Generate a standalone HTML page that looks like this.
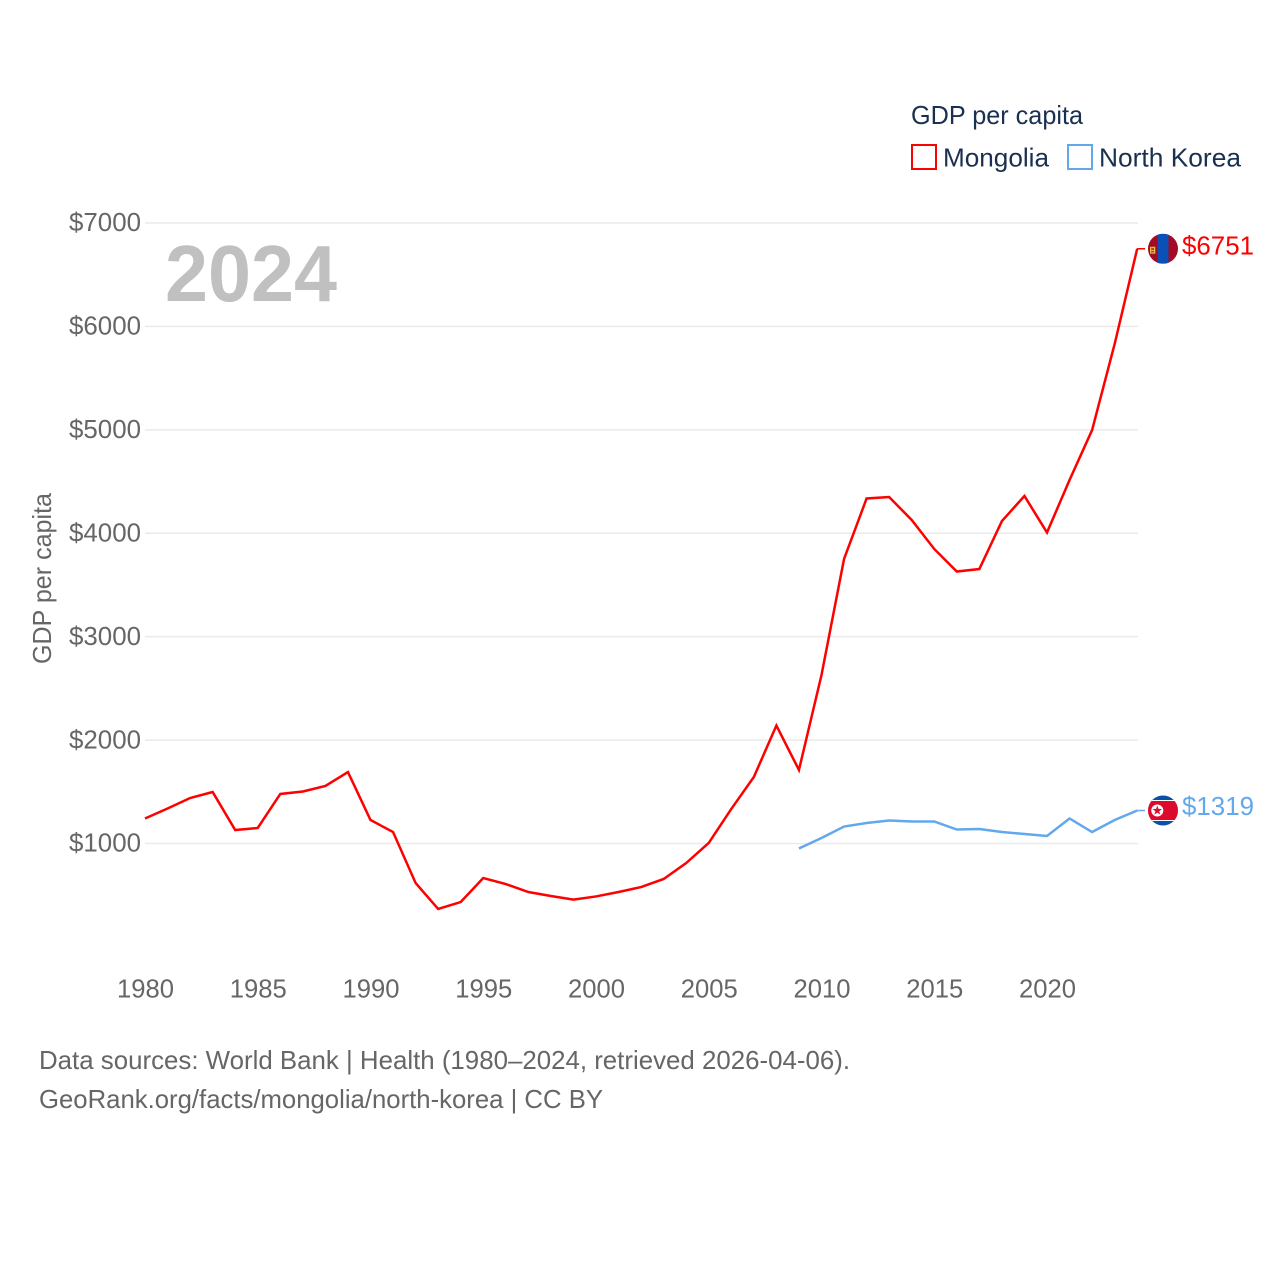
<!DOCTYPE html>
<html lang="en">
<head>
<meta charset="utf-8">
<title>GDP per capita: Mongolia and North Korea</title>
<style>
html,body{margin:0;padding:0;background:#fff;}
svg{display:block;}
text{font-family:"Liberation Sans",sans-serif;}
</style>
</head>
<body>
<svg id="chart" xmlns="http://www.w3.org/2000/svg" width="1280" height="1280" viewBox="0 0 1280 1280">
  <rect width="1280" height="1280" fill="#ffffff"/>
  <g id="grid"></g>
  <text x="165" y="301" font-size="80" font-weight="700" fill="#c0c0c0" textLength="172" lengthAdjust="spacingAndGlyphs">2024</text>
  <g id="yticks"></g>
  <g id="xticks"></g>
  <text transform="translate(51,664) rotate(-90)" font-size="26" fill="#666666" textLength="171" lengthAdjust="spacingAndGlyphs">GDP per capita</text>
  <g id="series"></g>

  <g>
    <text x="911" y="124" font-size="26" fill="#1a3050" textLength="172" lengthAdjust="spacingAndGlyphs">GDP per capita</text>
    <g>
      <rect x="912" y="145" width="24" height="24" fill="#ffffff" stroke="#ff0000" stroke-width="2"/>
      <text x="943" y="166.5" font-size="26" fill="#1a3050" textLength="106" lengthAdjust="spacingAndGlyphs">Mongolia</text>
    </g>
    <g>
      <rect x="1068" y="145" width="24" height="24" fill="#ffffff" stroke="#62a8ec" stroke-width="2"/>
      <text x="1099" y="166.5" font-size="26" fill="#1a3050" textLength="142" lengthAdjust="spacingAndGlyphs">North Korea</text>
    </g>
  </g>

  <defs>
    <clipPath id="flag-clip"><circle cx="0" cy="0" r="15"/></clipPath>
  </defs>
  <g id="flag-mongolia">
    <g clip-path="url(#flag-clip)">
      <rect x="-15" y="-15" width="30" height="30" fill="#a20a25"/>
      <rect x="-5.5" y="-15" width="11" height="30" fill="#0b50b4"/>
      <rect x="-13" y="-2" width="1.3" height="7" fill="#e6c04a"/>
      <rect x="-9" y="-2" width="1.3" height="7" fill="#e6c04a"/>
      <rect x="-11.5" y="-2" width="2.4" height="1.6" fill="#e6c04a"/>
      <rect x="-11.5" y="1" width="2.4" height="1.6" fill="#e6c04a"/>
      <rect x="-11.5" y="3.6" width="2.4" height="1.4" fill="#e6c04a"/>
    </g>
  </g>
  <g id="flag-north-korea">
    <g clip-path="url(#flag-clip)">
      <rect x="-15" y="-15" width="30" height="30" fill="#0a4fa8"/>
      <rect x="-15" y="-10.5" width="30" height="21" fill="#ffffff"/>
      <rect x="-15" y="-9.5" width="30" height="19" fill="#dc0a2d"/>
      <circle cx="-5.7" cy="0" r="6" fill="#ffffff"/>
      <polygon points="-5.7,-5 -4.5,-1.6 -0.9,-1.5 -3.8,0.7 -2.7,4.1 -5.7,2.1 -8.7,4.1 -7.6,0.7 -10.5,-1.5 -6.9,-1.6" fill="#dc0a2d"/>
    </g>
  </g>
  <g id="value-labels"></g>

  <g>
    <text x="39" y="1069" font-size="26" fill="#666666" textLength="811" lengthAdjust="spacingAndGlyphs">Data sources: World Bank | Health (1980–2024, retrieved 2026-04-06).</text>
    <text x="39" y="1108" font-size="26" fill="#666666" textLength="564" lengthAdjust="spacingAndGlyphs">GeoRank.org/facts/mongolia/north-korea | CC BY</text>
  </g>
</svg>

<script>
const years = [1980,1981,1982,1983,1984,1985,1986,1987,1988,1989,1990,1991,1992,1993,1994,1995,1996,1997,1998,1999,2000,2001,2002,2003,2004,2005,2006,2007,2008,2009,2010,2011,2012,2013,2014,2015,2016,2017,2018,2019,2020,2021,2022,2023,2024];
const mongoliaValues = [1242,1338,1440,1498,1130,1150,1479,1503,1556,1691,1227,1111,618,367,434,666,608,531,492,458,488,531,579,657,811,1005,1334,1643,2141,1711,2629,3751,4336,4350,4128,3848,3630,3654,4118,4360,4007,4515,4998,5830,6751];
const northKoreaYears = [2009,2010,2011,2012,2013,2014,2015,2016,2017,2018,2019,2020,2021,2022,2023,2024];
const northKoreaValues = [952,1053,1164,1198,1222,1213,1213,1135,1140,1111,1092,1073,1242,1111,1227,1319];
const yTicks = [1000,2000,3000,4000,5000,6000,7000];
const xTicks = [1980,1985,1990,1995,2000,2005,2010,2015,2020];

const SVG_NS = 'http://www.w3.org/2000/svg';
function xScale(year) { return 145 + (year - 1980) * 22.55; }
function yScale(value) { return 843.5 - (value - 1000) * 0.10342; }
function make(tag, parentId) {
  const el = document.createElementNS(SVG_NS, tag);
  document.getElementById(parentId).appendChild(el);
  return el;
}
function label(el, x, y, size, fill, anchor, width, content) {
  el.setAttribute('x', x);
  el.setAttribute('y', y);
  el.setAttribute('font-size', size);
  el.setAttribute('fill', fill);
  el.setAttribute('text-anchor', anchor);
  el.setAttribute('textLength', width);
  el.setAttribute('lengthAdjust', 'spacingAndGlyphs');
  el.textContent = content;
}

yTicks.forEach(function (tick) {
  const line = make('line', 'grid');
  
  
  line.setAttribute('x1', 145);
  line.setAttribute('x2', 1138);
  line.setAttribute('y1', yScale(tick));
  line.setAttribute('y2', yScale(tick));
  line.setAttribute('stroke', '#eaeaea');
  line.setAttribute('stroke-width', 1.5);

  const text = make('text', 'yticks');
  
  
  label(text, 141, yScale(tick) + 8.2, 26, '#666666', 'end', 72, '$' + tick);
});

xTicks.forEach(function (tick) {
  const text = make('text', 'xticks');
  
  
  label(text, xScale(tick) + 0.5, 997.5, 26, '#666666', 'middle', 57, String(tick));
});

function drawSeries(name, xs, values, color, flagId, labelWidth, labelOffset) {
  const points = xs.map(function (year, i) {
    return xScale(year) + ',' + yScale(values[i]);
  }).join(' ');
  const path = make('polyline', 'series');
  
  
  path.setAttribute('points', points);
  path.setAttribute('fill', 'none');
  path.setAttribute('stroke', color);
  path.setAttribute('stroke-width', 2.5);
  path.setAttribute('stroke-linejoin', 'miter');

  const last = values[values.length - 1];
  const lastX = xScale(xs[xs.length - 1]);
  const lastY = yScale(last);

  const connector = make('line', 'series');
  
  
  connector.setAttribute('x1', lastX);
  connector.setAttribute('x2', 1145);
  connector.setAttribute('y1', lastY);
  connector.setAttribute('y2', lastY);
  connector.setAttribute('stroke', color);
  connector.setAttribute('stroke-width', 1.5);

  document.getElementById(flagId).setAttribute('transform', 'translate(1163,' + lastY + ')');

  const text = make('text', 'value-labels');
  
  
  label(text, 1182, lastY + labelOffset, 26, color, 'start', labelWidth, '$' + last);
}

drawSeries('mongolia', years, mongoliaValues, '#ff0000', 'flag-mongolia', 72, 6);
drawSeries('north-korea', northKoreaYears, northKoreaValues, '#62a8ec', 'flag-north-korea', 72, 4.5);
</script>
</body>
</html>
